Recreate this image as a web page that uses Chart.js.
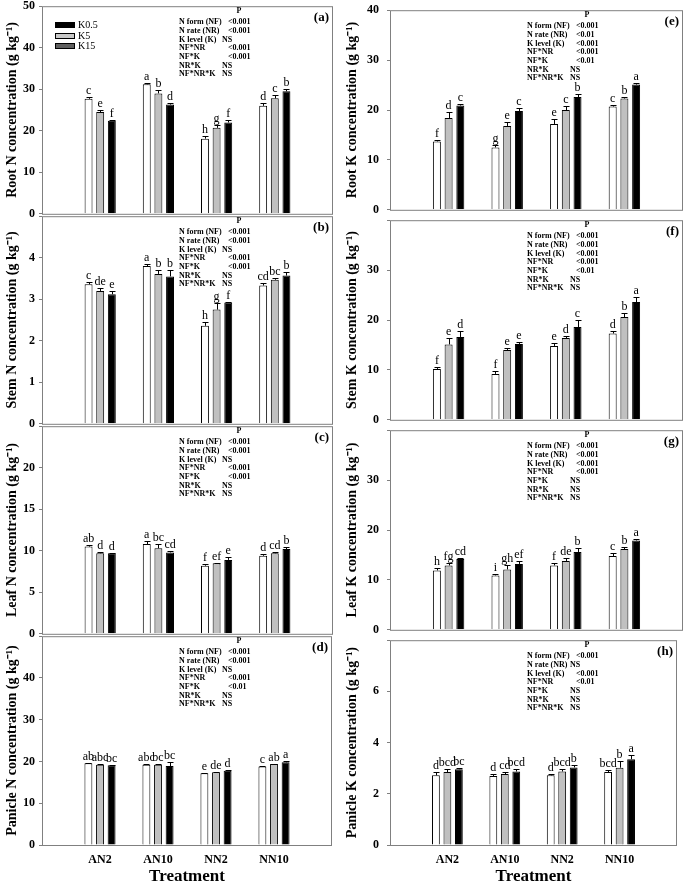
<!DOCTYPE html>
<html>
<head>
<meta charset="utf-8">
<script src="https://cdn.jsdelivr.net/npm/chart.js@4.4.0/dist/chart.umd.min.js"></script>
<style>
  html, body { margin: 0; padding: 0; background: #fff; }
  #wrap { position: relative; width: 685px; height: 887px; overflow: hidden; }
  .panel { position: absolute; }
</style>
</head>
<body>
<div id="wrap"></div>
<script>
var treatments = ['AN2', 'AN10', 'NN2', 'NN10'];
var kLevels = ['K0.5', 'K5', 'K15'];
var statTerms = ['N form (NF)', 'N rate (NR)', 'K level (K)', 'NF*NR', 'NF*K', 'NR*K', 'NF*NR*K'];

// rows = K0.5, K5, K15 ; columns = AN2, AN10, NN2, NN10
var rootN = [[27.7, 31.2, 18.1, 26.0], [24.5, 29.0, 20.7, 27.8], [22.4, 26.3, 22.0, 29.5]];
var rootNErr = [[0.5, 0.3, 0.6, 0.8], [0.5, 0.8, 0.8, 0.8], [0.3, 0.5, 0.7, 0.6]];
var rootNLetters = [['c', 'a', 'h', 'd'], ['e', 'b', 'g', 'c'], ['f', 'd', 'f', 'b']];
var rootNP = ['<0.001', '<0.001', 'NS', '<0.001', '<0.001', 'NS', 'NS'];

var stemN = [[3.36, 3.80, 2.36, 3.33], [3.20, 3.61, 2.75, 3.47], [3.12, 3.55, 2.92, 3.57]];
var stemNErr = [[0.06, 0.04, 0.10, 0.06], [0.08, 0.10, 0.16, 0.03], [0.08, 0.15, 0.01, 0.08]];
var stemNLetters = [['c', 'a', 'h', 'cd'], ['de', 'b', 'g', 'bc'], ['e', 'b', 'f', 'b']];
var stemNP = ['<0.001', '<0.001', 'NS', '<0.001', '<0.001', 'NS', 'NS'];

var leafN = [[10.5, 10.8, 8.2, 9.4], [9.7, 10.3, 8.5, 9.7], [9.7, 9.8, 8.9, 10.2]];
var leafNErr = [[0.2, 0.4, 0.2, 0.2], [0.2, 0.5, 0.05, 0.2], [0.03, 0.15, 0.3, 0.3]];
var leafNLetters = [['ab', 'a', 'f', 'd'], ['d', 'bc', 'ef', 'cd'], ['d', 'cd', 'e', 'b']];
var leafNP = ['<0.001', '<0.001', 'NS', '<0.001', '<0.001', 'NS', 'NS'];

var panicleN = [[19.6, 19.2, 17.2, 18.8], [19.2, 19.2, 17.4, 19.4], [19.1, 18.9, 17.8, 19.8]];
var panicleNErr = [[0.1, 0.3, 0.1, 0.1], [0.1, 0.3, 0.1, 0.1], [0.1, 0.9, 0.2, 0.2]];
var panicleNLetters = [['ab', 'abc', 'e', 'c'], ['abc', 'bc', 'de', 'ab'], ['bc', 'bc', 'd', 'a']];
var panicleNP = ['<0.001', '<0.001', 'NS', '<0.001', '<0.01', 'NS', 'NS'];

var rootK = [[13.7, 12.5, 17.2, 20.7], [18.4, 16.8, 20.0, 22.3], [20.9, 19.8, 22.6, 25.1]];
var rootKErr = [[0.2, 0.4, 0.9, 0.4], [1.1, 0.7, 0.8, 0.4], [0.4, 0.7, 0.6, 0.4]];
var rootKLetters = [['f', 'g', 'e', 'c'], ['d', 'e', 'c', 'b'], ['c', 'c', 'b', 'a']];
var rootKP = ['<0.001', '<0.01', '<0.001', '<0.001', '<0.01', 'NS', 'NS'];

var stemK = [[10.2, 9.2, 14.8, 17.3], [15.1, 14.0, 16.4, 20.6], [16.6, 15.2, 18.6, 23.6]];
var stemKErr = [[0.3, 0.5, 0.6, 0.4], [1.3, 0.4, 0.4, 0.8], [1.1, 0.4, 1.3, 1.0]];
var stemKLetters = [['f', 'f', 'e', 'd'], ['e', 'e', 'd', 'b'], ['d', 'e', 'c', 'a']];
var stemKP = ['<0.001', '<0.001', '<0.001', '<0.001', '<0.01', 'NS', 'NS'];

var leafK = [[11.9, 10.9, 12.9, 14.8], [12.9, 12.1, 13.8, 16.2], [14.2, 13.2, 15.6, 17.9]];
var leafKErr = [[0.4, 0.2, 0.4, 0.6], [0.4, 0.8, 0.5, 0.3], [0.2, 0.5, 0.7, 0.3]];
var leafKLetters = [['h', 'i', 'f', 'c'], ['fg', 'gh', 'de', 'b'], ['cd', 'ef', 'b', 'a']];
var leafKP = ['<0.001', '<0.001', '<0.001', '<0.001', 'NS', 'NS', 'NS'];

var panicleK = [[2.72, 2.70, 2.72, 2.85], [2.85, 2.77, 2.87, 3.02], [2.96, 2.87, 3.03, 3.35]];
var panicleKErr = [[0.15, 0.07, 0.05, 0.08], [0.12, 0.08, 0.08, 0.25], [0.03, 0.10, 0.08, 0.17]];
var panicleKLetters = [['d', 'd', 'd', 'bcd'], ['bcd', 'cd', 'bcd', 'b'], ['bc', 'bcd', 'b', 'a']];
var panicleKP = ['<0.001', 'NS', '<0.001', '<0.01', 'NS', 'NS', 'NS'];

var SERIF = "'Liberation Serif', 'Times New Roman', serif";
var barFill = ['#ffffff', '#c0c0c0', '#000000'];
var legendFill = ['#000000', '#c8c8c8', '#5f5f5f'];
var axisGray = '#808080';

var panels = [
  { col: 0, row: 0, tag: '(a)', title: 'Root N concentration (g kg\u207B\u00B9)', vals: rootN, errs: rootNErr, letters: rootNLetters, p: rootNP, max: 50, step: 10, legend: true },
  { col: 0, row: 1, tag: '(b)', title: 'Stem N concentration (g kg\u207B\u00B9)', vals: stemN, errs: stemNErr, letters: stemNLetters, p: stemNP, max: 5, step: 1 },
  { col: 0, row: 2, tag: '(c)', title: 'Leaf N concentration (g kg\u207B\u00B9)', vals: leafN, errs: leafNErr, letters: leafNLetters, p: leafNP, max: 25, step: 5 },
  { col: 0, row: 3, tag: '(d)', title: 'Panicle N concentration (g kg\u207B\u00B9)', vals: panicleN, errs: panicleNErr, letters: panicleNLetters, p: panicleNP, max: 50, step: 10 },
  { col: 1, row: 0, tag: '(e)', title: 'Root K concentration (g kg\u207B\u00B9)', vals: rootK, errs: rootKErr, letters: rootKLetters, p: rootKP, max: 40, step: 10 },
  { col: 1, row: 1, tag: '(f)', title: 'Stem K concentration (g kg\u207B\u00B9)', vals: stemK, errs: stemKErr, letters: stemKLetters, p: stemKP, max: 40, step: 10 },
  { col: 1, row: 2, tag: '(g)', title: 'Leaf K concentration (g kg\u207B\u00B9)', vals: leafK, errs: leafKErr, letters: leafKLetters, p: leafKP, max: 40, step: 10 },
  { col: 1, row: 3, tag: '(h)', title: 'Panicle K concentration (g kg\u207B\u00B9)', vals: panicleK, errs: panicleKErr, letters: panicleKLetters, p: panicleKP, max: 8, step: 2 }
];

// error bars, letters, stats table, tag, legend and frame
function overlay(p) {
  return {
    id: 'overlay',
    afterDatasetsDraw: function(chart) {
      var ctx = chart.ctx, y = chart.scales.y;
      ctx.save();
      ctx.strokeStyle = '#000';
      ctx.lineWidth = 1;
      ctx.fillStyle = '#000';
      ctx.font = '12px ' + SERIF;
      ctx.textAlign = 'center';
      ctx.textBaseline = 'alphabetic';
      chart.data.datasets.forEach(function(ds, i) {
        chart.getDatasetMeta(i).data.forEach(function(bar, j) {
          if (ds.data[j] == null) return;
          var e = p.errs[i][j - 1];
          var x = Math.round(bar.x) + 0.5;
          var top = Math.round(y.getPixelForValue(ds.data[j] + e)) + 0.5;
          var half = Math.round(bar.width * 0.4);
          ctx.beginPath();
          ctx.moveTo(x, bar.y);
          ctx.lineTo(x, top);
          ctx.moveTo(x - half, top);
          ctx.lineTo(x + half, top);
          ctx.stroke();
          ctx.fillText(p.letters[i][j - 1], bar.x, top - 4);
        });
      });
      ctx.restore();
    },
    afterDraw: function(chart) {
      var ctx = chart.ctx, a = chart.chartArea;
      ctx.save();
      ctx.strokeStyle = axisGray;
      ctx.lineWidth = 1;
      ctx.strokeRect(a.left + 0.5, a.top + 0.5, a.right - a.left - 1, a.bottom - a.top);

      ctx.fillStyle = '#000';
      ctx.font = 'bold 13px ' + SERIF;
      ctx.textAlign = 'right';
      ctx.textBaseline = 'middle';
      ctx.fillText(p.tag, a.right - 4, a.top + 11);

      ctx.font = 'bold 8px ' + SERIF;
      ctx.textAlign = 'center';
      ctx.fillText('P', a.left + 197, a.top + 5);
      ctx.textAlign = 'left';
      statTerms.forEach(function(t, i) {
        var ty = a.top + 16 + i * 8.7;
        ctx.fillText(t, a.left + 137, ty);
        ctx.fillText(p.p[i], a.left + (p.p[i] === 'NS' ? 180 : 186), ty);
      });

      if (p.legend) {
        ctx.font = '10px ' + SERIF;
        kLevels.forEach(function(k, i) {
          var ly = Math.round(a.top + 16 + i * 10.5);
          ctx.fillStyle = legendFill[i];
          ctx.fillRect(a.left + 13, ly, 19, 5);
          ctx.strokeStyle = '#000';
          ctx.strokeRect(a.left + 13.5, ly + 0.5, 19, 5);
          ctx.fillStyle = '#000';
          ctx.fillText(k, a.left + 36, ly + 3);
        });
      }
      ctx.restore();
    }
  };
}

var wrap = document.getElementById('wrap');

panels.forEach(function(p) {
  var left = p.col === 0 ? 0 : 340;
  var width = p.col === 0 ? 340 : 345;
  var yWidth = p.col === 0 ? 42 : 50;
  var plotWidth = p.col === 0 ? 291 : 293;
  var bottomRow = p.row === 3;
  var top = 5 + 210 * p.row - 10;
  var height = bottomRow ? 887 - top : 230;

  var canvas = document.createElement('canvas');
  canvas.className = 'panel';
  canvas.width = width;
  canvas.height = height;
  canvas.style.left = left + 'px';
  canvas.style.top = top + 'px';
  wrap.appendChild(canvas);

  var datasets = kLevels.map(function(k, i) {
    return {
      label: k,
      data: [null].concat(p.vals[i], [null]),
      backgroundColor: barFill[i],
      borderColor: '#000',
      borderWidth: 1,
      categoryPercentage: 0.6,
      barPercentage: 0.68
    };
  });

  new Chart(canvas, {
    type: 'bar',
    data: { labels: [''].concat(treatments, ['']), datasets: datasets },
    options: {
      responsive: false,
      animation: false,
      events: [],
      layout: { padding: { top: 10, bottom: bottomRow ? 0 : 10, left: 0, right: width - yWidth - plotWidth } },
      plugins: { legend: { display: false }, tooltip: { enabled: false } },
      scales: {
        x: {
          offset: false,
          display: bottomRow,
          grid: { display: false, drawTicks: false },
          border: { display: false },
          ticks: { color: '#000', font: { family: SERIF, size: 12, weight: 'bold' }, padding: 8, autoSkip: false, maxRotation: 0 },
          title: { display: true, text: 'Treatment', color: '#000', font: { family: SERIF, size: 17, weight: 'bold' }, padding: { top: 0, bottom: 0 } },
          afterFit: function(s) { if (bottomRow) s.height = 42; }
        },
        y: {
          min: 0,
          max: p.max,
          border: { display: false },
          grid: { drawOnChartArea: false, drawTicks: true, tickLength: 3, color: axisGray },
          ticks: {
            stepSize: p.step,
            color: '#000',
            padding: p.col === 0 ? 4 : 8,
            font: { family: SERIF, size: 12, weight: 'bold' },
            callback: function(v) { return (p.row > 0 && v === p.max) ? '' : v; }
          },
          title: { display: true, text: p.title, color: '#000', font: { family: SERIF, size: 14, weight: 'bold' }, padding: { top: 4, bottom: 0 } },
          afterFit: function(s) { s.width = yWidth; }
        }
      }
    },
    plugins: [overlay(p)]
  });
});
</script>
</body>
</html>
